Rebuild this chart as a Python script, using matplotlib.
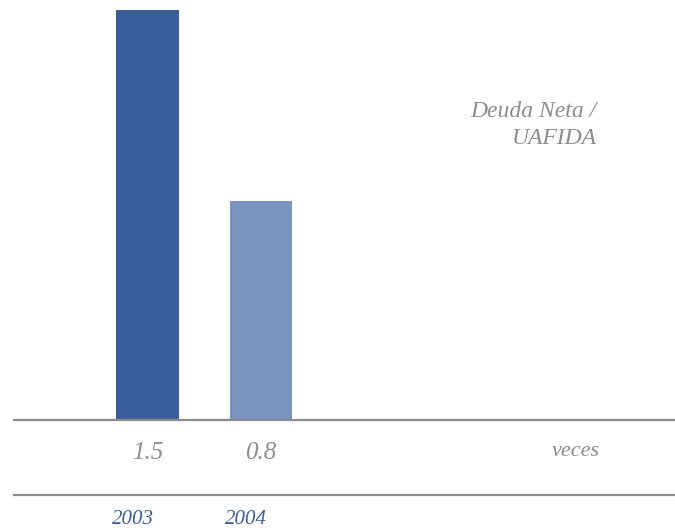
import matplotlib.pyplot as plt
from matplotlib import transforms
from matplotlib.lines import Line2D

years = ["2003", "2004"]
values = [1.5, 0.8]
value_labels = ["1.5", "0.8"]
bar_colors = ["#3a5e99", "#7b93be"]

plt.rcParams['font.family'] = ['Liberation Serif', 'DejaVu Serif']

fig = plt.figure(figsize=(6.75, 5.3), dpi=100)
ax = fig.add_axes([14 / 675, 110 / 530, 661 / 675, 410 / 530])

x = list(range(len(values)))
ax.bar(x, values, width=0.55, color=bar_colors)
ax.set_xlim(-1.176, 4.648)
ax.set_ylim(0, 1.5)
ax.axis('off')
ax.axhline(0, color='#8c8c8c', lw=1.6, clip_on=False)

# second rule below the value row
fig.add_artist(Line2D([14 / 675, 1], [35 / 530, 35 / 530], color='#8c8c8c', lw=1.6))

trans = transforms.blended_transform_factory(ax.transData, fig.transFigure)
for xi, lab in zip(x, value_labels):
    ax.text(xi, 1 - 453 / 530, lab, transform=trans, ha='center', va='center',
            fontsize=18, style='italic', color='#8c8c8c')
for xi, yr in zip(x, years):
    ax.annotate(yr, (xi, 1 - 520 / 530), xycoords=trans, xytext=(-10.5, 0),
                textcoords='offset points', ha='center', va='center',
                fontsize=15, style='italic', color='#3a5e99')

fig.text(576 / 675, 1 - 452 / 530, "veces", ha='center', va='center',
         fontsize=16, style='italic', color='#8c8c8c')
fig.text(597 / 675, 1 - 111 / 530, "Deuda Neta /", ha='right', va='center',
         fontsize=17, style='italic', color='#8c8c8c')
fig.text(597 / 675, 1 - 139 / 530, "UAFIDA", ha='right', va='center',
         fontsize=17, style='italic', color='#8c8c8c')

fig.savefig("out.png", dpi=100)
